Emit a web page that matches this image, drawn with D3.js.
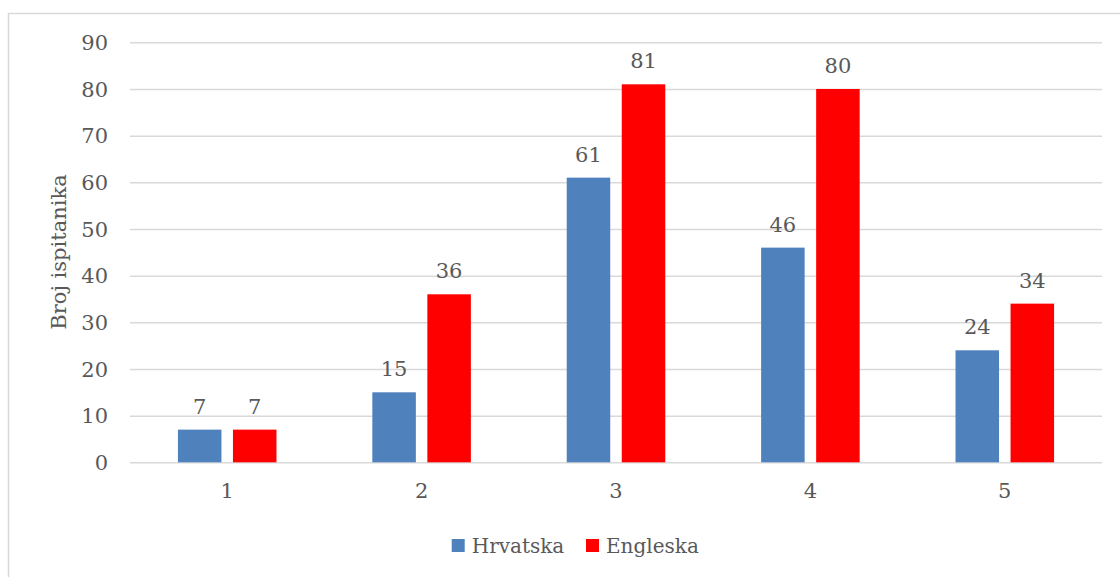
<!DOCTYPE html>
<html><head><meta charset="utf-8">
<script src="https://cdn.jsdelivr.net/npm/d3@7"></script>
<style>body{margin:0;background:#fff;} svg{display:block;} text{font-family:"DejaVu Serif",serif;fill:#595959;}</style>
</head><body>
<script>
const categories = ["1","2","3","4","5"];
const seriesNames = ["Hrvatska","Engleska"];
const hrvatska = [7,15,61,46,24];
const engleska = [7,36,81,80,34];
const yTicks = [0,10,20,30,40,50,60,70,80,90];
const colors = ["#4f81bd","#ff0000"];
const yLabel = "Broj ispitanika";
const FS = 21;

const W=1120,H=577;
const svg=d3.select("body").append("svg").attr("width",W).attr("height",H);
svg.append("rect").attr("x",8.5).attr("y",13.5).attr("width",1130).attr("height",600)
  .attr("fill","none").attr("stroke","#d9d9d9").attr("stroke-width",1.5);

const x0=d3.scaleBand().domain(categories).range([130,1102]).paddingInner(0.493).paddingOuter(0.2465);
const x1=d3.scaleBand().domain(seriesNames).range([0,x0.bandwidth()]).paddingInner(0.209).paddingOuter(0);
const y=d3.scaleLinear().domain([0,90]).range([462.3,42.3]);

const g=svg.append("g");
const yAxis=d3.axisLeft(y).tickValues(yTicks).tickSize(-(1102-130)).tickPadding(22);
const ya=g.append("g").attr("transform","translate(130,0)").call(yAxis);
ya.select(".domain").remove();
ya.selectAll(".tick line").attr("stroke","#d9d9d9").attr("stroke-width",1.5);
ya.selectAll(".tick text").attr("font-size",FS).attr("fill","#595959").attr("font-family","DejaVu Serif").attr("dy","0.35em");

const xAxis=d3.axisBottom(x0).tickSize(0).tickPadding(21);
const xa=g.append("g").attr("transform","translate(0,462.3)").call(xAxis);
xa.select(".domain").remove();
xa.selectAll(".tick text").attr("font-size",FS).attr("fill","#595959").attr("font-family","DejaVu Serif");

const data=categories.map((c,i)=>({c,vals:[{s:seriesNames[0],v:hrvatska[i],k:0},{s:seriesNames[1],v:engleska[i],k:1}]}));
const grp=g.selectAll(".grp").data(data).join("g").attr("transform",d=>`translate(${x0(d.c)},0)`);
grp.selectAll("rect").data(d=>d.vals).join("rect")
  .attr("x",d=>x1(d.s)).attr("width",x1.bandwidth())
  .attr("y",d=>y(d.v)).attr("height",d=>y(0)-y(d.v)).attr("fill",d=>colors[d.k]);
grp.selectAll("text.val").data(d=>d.vals).join("text").attr("class","val")
  .attr("x",d=>x1(d.s)+x1.bandwidth()/2).attr("y",d=>y(d.v)-16)
  .attr("text-anchor","middle").attr("font-size",FS).text(d=>d.v);

svg.append("text").attr("transform","translate(66,252) rotate(-90)").attr("text-anchor","middle")
  .attr("font-size",FS).text(yLabel);

const lg=svg.append("g");
const lx=[451.7,586];
seriesNames.forEach((s,i)=>{
  lg.append("rect").attr("x",lx[i]).attr("y",539).attr("width",13).attr("height",13).attr("fill",colors[i]);
  lg.append("text").attr("x",lx[i]+20).attr("y",553).attr("font-size",20).text(s);
});
</script>
</body></html>
